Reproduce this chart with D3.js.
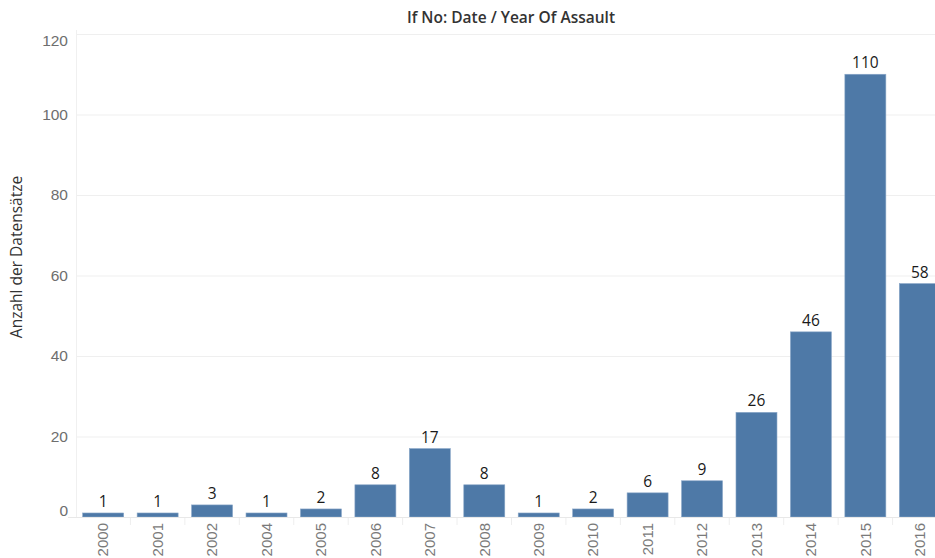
<!DOCTYPE html>
<html>
<head>
<meta charset="utf-8">
<script src="https://cdn.jsdelivr.net/npm/d3@7"></script>
<style>
  body { margin: 0; background: #fff; overflow: hidden; }
  svg { display: block; font-family: "Open Sans", Lato, sans-serif; }
</style>
</head>
<body>
<div id="chart"></div>
<script>
const years = ['2000', '2001', '2002', '2004', '2005', '2006', '2007', '2008', '2009', '2010', '2011', '2012', '2013', '2014', '2015', '2016'];
const counts = [1, 1, 3, 1, 2, 8, 17, 8, 1, 2, 6, 9, 26, 46, 110, 58];
const yTicks = [0, 20, 40, 60, 80, 100, 120];

const width = 935;
const height = 558;
const margin = { top: 34, bottom: 41, left: 76 };
// the plot runs a little past the right edge of the view (last bar is cut)
const plotWidth = 871;
const innerHeight = height - margin.top - margin.bottom;

const svg = d3.select('#chart')
  .append('svg')
  .attr('width', width)
  .attr('height', height);

const g = svg.append('g')
  .attr('transform', `translate(${margin.left},${margin.top})`);

const x = d3.scaleBand()
  .domain(years)
  .range([0, plotWidth])
  .paddingInner(0.247)
  .paddingOuter(0.123);

const y = d3.scaleLinear()
  .domain([0, 120])
  .range([innerHeight, 0]);

// grid lines
g.selectAll('.grid')
  .data(yTicks.filter(d => d > 0))
  .join('line')
  .attr('class', 'grid')
  .attr('x1', 0).attr('x2', plotWidth)
  .attr('y1', d => y(d) + 0.5).attr('y2', d => y(d) + 0.5)
  .attr('stroke', '#efefef')
  .attr('stroke-width', 1);

// left axis line
g.append('line')
  .attr('x1', 0.5).attr('x2', 0.5)
  .attr('y1', -4).attr('y2', innerHeight)
  .attr('stroke', '#f0f0f0');

// Y axis
const yAxis = g.append('g')
  .call(d3.axisLeft(y).tickValues(yTicks).tickSize(0).tickPadding(8));
yAxis.select('.domain').remove();
yAxis.selectAll('text')
  .attr('fill', '#6e6e6e')
  .attr('font-size', '15.5px')
  .attr('dy', d => d === 120 ? '0.75em' : d === 0 ? '-0.1em' : '0.32em');

// bars
g.selectAll('.bar')
  .data(years)
  .join('rect')
  .attr('class', 'bar')
  .attr('x', d => x(d))
  .attr('width', x.bandwidth())
  .attr('y', (d, i) => y(counts[i]))
  .attr('height', (d, i) => innerHeight - y(counts[i]))
  .attr('fill', '#4e79a7')
  .attr('stroke', '#8aa7c8')
  .attr('stroke-width', 0.6);

// value labels
g.selectAll('.val')
  .data(years)
  .join('text')
  .attr('class', 'val')
  .attr('x', d => x(d) + x.bandwidth() / 2)
  .attr('y', (d, i) => y(counts[i]) - 6)
  .attr('text-anchor', 'middle')
  .attr('fill', '#1a1a1a')
  .attr('font-size', '15.5px')
  .text((d, i) => counts[i]);

// baseline
g.append('line')
  .attr('x1', -8).attr('x2', plotWidth)
  .attr('y1', innerHeight + 0.5).attr('y2', innerHeight + 0.5)
  .attr('stroke', '#e8e8e8');

// X axis
const step = x.step();
const xAxis = g.append('g')
  .attr('transform', `translate(0,${innerHeight})`)
  .call(d3.axisBottom(x).tickSize(0).tickPadding(0));
xAxis.select('.domain').remove();
xAxis.selectAll('text')
  .attr('fill', '#7a7a7a')
  .attr('font-size', '15px')
  .attr('text-anchor', 'end')
  .attr('transform', 'rotate(-90)')
  .attr('x', -6)
  .attr('y', 0)
  .attr('dy', '0.35em');

// band separators below the axis
g.selectAll('.sep')
  .data(years.slice(1))
  .join('line')
  .attr('class', 'sep')
  .attr('x1', d => x(d) - (step - x.bandwidth()) / 2)
  .attr('x2', d => x(d) - (step - x.bandwidth()) / 2)
  .attr('y1', innerHeight + 1).attr('y2', innerHeight + 8)
  .attr('stroke', '#eeeeee');

// title
svg.append('text')
  .attr('x', 511)
  .attr('y', 23)
  .attr('text-anchor', 'middle')
  .attr('font-size', '15.5px')
  .attr('font-weight', 600)
  .attr('fill', '#333')
  .text('If No: Date / Year Of Assault');

// y axis title
svg.append('text')
  .attr('transform', 'rotate(-90)')
  .attr('x', -257)
  .attr('y', 22)
  .attr('text-anchor', 'middle')
  .attr('font-size', '15.5px')
  .attr('fill', '#333')
  .text('Anzahl der Datensätze');
</script>
</body>
</html>
